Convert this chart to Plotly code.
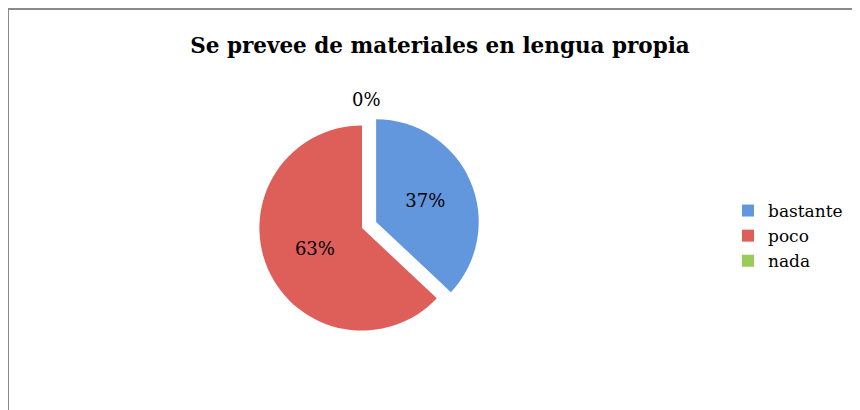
import plotly.graph_objects as go

categories = ["bastante", "poco", "nada"]
values = [37, 63, 0]
colors = ["#6397DD", "#DE5E5A", "#9BCB59"]
title_text = "Se prevee de materiales en lengua propia"

W, H = 860, 410
OFF = 8  # browser body margin

def px_x(x):
    return (x - OFF) / W

def px_y(y):
    return 1 - (y - OFF) / H

R = 118
CX, CY = 362, 228

fig = go.Figure()
fig.add_trace(go.Pie(
    labels=categories,
    values=values,
    sort=False,
    direction="clockwise",
    rotation=0,
    pull=[0.15, 0, 0],
    marker=dict(colors=colors, line=dict(color="white", width=0)),
    texttemplate="%{percent:.0%}",
    textposition=["inside", "inside", "none"],
    insidetextorientation="horizontal",
    textfont=dict(family="DejaVu Serif", size=18, color="black"),
    domain=dict(x=[px_x(CX - R), px_x(CX + R)], y=[px_y(CY + R), px_y(CY - R)]),
    showlegend=True,
    hoverinfo="label+percent",
))

fig.update_layout(
    width=W, height=H,
    margin=dict(l=0, r=0, t=0, b=0),
    paper_bgcolor="white",
    plot_bgcolor="white",
    title=dict(text="<b>" + title_text + "</b>", x=px_x(440), xanchor="center",
               y=px_y(45), yanchor="middle",
               font=dict(family="DejaVu Serif", size=21.5, color="black")),
    legend=dict(x=px_x(728), y=px_y(193), xanchor="left", yanchor="top",
                font=dict(family="DejaVu Serif", size=17, color="black"),
                bgcolor="rgba(0,0,0,0)", itemwidth=30),
    annotations=[
        dict(text="0%", xref="paper", yref="paper", x=px_x(366), y=px_y(100),
             xanchor="center", yanchor="middle", showarrow=False,
             font=dict(family="DejaVu Serif", size=18, color="black")),
    ],
    shapes=[
        dict(type="line", xref="paper", yref="paper", x0=px_x(8), x1=px_x(8), y0=0, y1=px_y(9),
             line=dict(color="#8a8a8a", width=2)),
        dict(type="line", xref="paper", yref="paper", x0=px_x(8), x1=1, y0=px_y(9), y1=px_y(9),
             line=dict(color="#8a8a8a", width=2)),
    ],
)

fig.write_html("out.html")
